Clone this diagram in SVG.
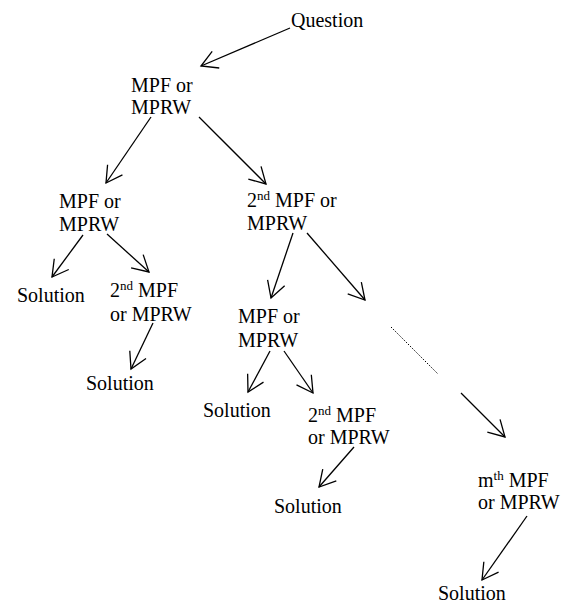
<svg xmlns="http://www.w3.org/2000/svg" width="564" height="604" viewBox="0 0 564 604">
<style>
text{font-size:20px;fill:#000}
.sup{font-size:13px}
.c line{stroke:#000;stroke-width:1.3;fill:none}
.c line.a{marker-end:url(#ah)}
.c line.dot{stroke-width:1;stroke-dasharray:1.5 1.5}
</style>
<defs>
<marker id="ah" markerUnits="userSpaceOnUse" markerWidth="24" markerHeight="24" viewBox="-20 -12 24 24" refX="0" refY="0" orient="auto" overflow="visible">
<path d="M-16,-9 L0,0 L-16,9" fill="none" stroke="#000" stroke-width="1.3"/>
</marker>
</defs>
<rect width="564" height="604" fill="#fff"/>
<g class="c" id="connectors">
<line class="a" x1="290" y1="28" x2="201" y2="66"/>
<line class="a" x1="151" y1="117" x2="106" y2="183"/>
<line class="a" x1="199" y1="117" x2="266" y2="184"/>
<line class="a" x1="83" y1="235" x2="52" y2="277"/>
<line class="a" x1="107" y1="234" x2="149" y2="272"/>
<line class="a" x1="153" y1="323" x2="131" y2="369"/>
<line class="a" x1="293" y1="233" x2="271" y2="298"/>
<line class="a" x1="307" y1="233" x2="365" y2="300"/>
<line class="a" x1="270" y1="351" x2="248" y2="392"/>
<line class="a" x1="284" y1="351" x2="313" y2="393"/>
<line class="a" x1="354" y1="447" x2="319" y2="487"/>
<line class="dot" x1="391" y1="327" x2="438" y2="374"/>
<line class="a" x1="461" y1="393" x2="505" y2="437"/>
<line class="a" x1="527" y1="516" x2="482" y2="580"/>
</g>
<g font-family="'Liberation Serif', 'Times New Roman', Times, serif">
<g id="n-question"><text x="291" y="27">Question</text></g>
<g id="n-root"><text x="131" y="92">MPF or</text><text x="131" y="114">MPRW</text></g>
<g id="n-left"><text x="59" y="208">MPF or</text><text x="59" y="231">MPRW</text></g>
<g id="n-sol1"><text x="17" y="302">Solution</text></g>
<g id="n-left2"><text x="110" y="297">2<tspan class="sup" dy="-7">nd</tspan><tspan dy="7"> MPF</tspan></text><text x="110" y="321">or MPRW</text></g>
<g id="n-sol2"><text x="86" y="390">Solution</text></g>
<g id="n-right"><text x="247" y="207">2<tspan class="sup" dy="-7">nd</tspan><tspan dy="7"> MPF or</tspan></text><text x="247" y="230">MPRW</text></g>
<g id="n-mid"><text x="238" y="323">MPF or</text><text x="238" y="347">MPRW</text></g>
<g id="n-sol3"><text x="203" y="417">Solution</text></g>
<g id="n-mid2"><text x="308" y="422">2<tspan class="sup" dy="-7">nd</tspan><tspan dy="7"> MPF</tspan></text><text x="308" y="444">or MPRW</text></g>
<g id="n-sol4"><text x="274" y="513">Solution</text></g>
<g id="n-mth"><text x="478" y="487">m<tspan class="sup" dy="-7">th</tspan><tspan dy="7"> MPF</tspan></text><text x="478" y="509">or MPRW</text></g>
<g id="n-sol5"><text x="438" y="600">Solution</text></g>
</g>
</svg>
